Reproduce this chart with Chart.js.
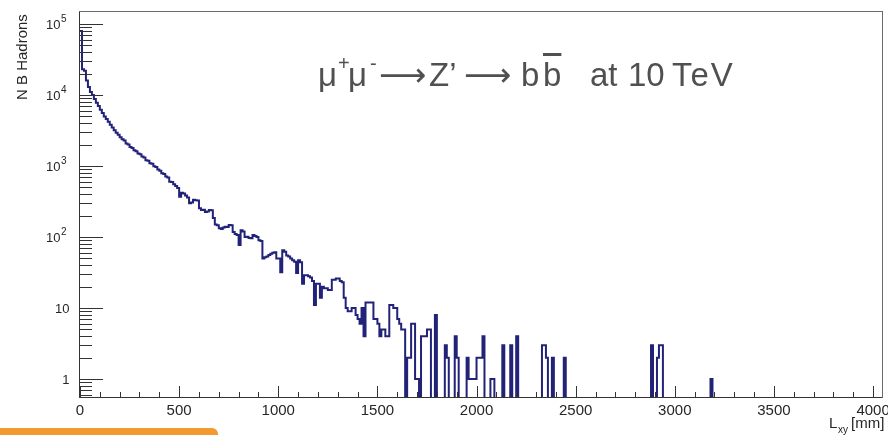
<!DOCTYPE html>
<html>
<head>
<meta charset="utf-8">
<script src="https://cdn.jsdelivr.net/npm/chart.js@4.4.1/dist/chart.umd.min.js"></script>
<style>
  html, body { margin: 0; padding: 0; background: #fff; }
  #wrap { position: relative; width: 888px; height: 435px; overflow: hidden; background: #fff; }
  #chart { position: absolute; left: 0; top: 0; }
  #process {
    position: absolute; left: 0; top: 58px; width: 888px; height: 40px;
    font-family: "Liberation Sans", "DejaVu Sans", sans-serif;
    font-size: 33px; line-height: 33px; color: #505050; white-space: nowrap;
  }
  #process span { position: absolute; top: 0; }
  #process .up { top: -11px; font-size: 20px; }
  #process .bar { text-decoration: overline; }
  #slideBar {
    position: absolute; left: 0; top: 428px; width: 218px; height: 12px;
    background: #f29a2e; border-top-right-radius: 6px;
  }
</style>
</head>
<body>
<div id="wrap">
  <canvas id="chart" width="888" height="435"></canvas>
  <div id="process"><span style="left:318px">μ</span><span class="up" style="left:338px">+</span><span style="left:348px">μ</span><span class="up" style="left:370px">-</span><span style="left:379px">⟶</span><span style="left:429px">Z’</span><span style="left:464px">⟶</span><span style="left:521px">b</span><span class="bar" style="left:543px">b</span><span style="left:590px">at</span><span style="left:628px">10</span><span style="left:672px; letter-spacing:2px">TeV</span></div>
  <div id="slideBar"></div>
</div>
<script>
// histogram binning (mm)
var xMin = 0;
var binWidth = 10;

// B hadron counts per 10 mm bin (20 bins per row = 200 mm)
var counts = [
  80000, 23000, 22000, 16000, 13000, 11000, 10000, 8800, 7800, 7000, 6200, 5600, 5000, 4600, 4200, 3800, 3500, 3200, 2950, 2750,
  2550, 2380, 2290, 2080, 2010, 1850, 1800, 1670, 1620, 1500, 1470, 1360, 1320, 1210, 1190, 1090, 1080, 990, 970, 890,
  860, 790, 770, 710, 690, 600, 595, 555, 525, 490, 370, 420, 410, 385, 360, 300, 305, 335, 330, 328,
  255, 240, 242, 225, 228, 240, 238, 185, 150, 146, 133, 130, 136, 139, 138, 148, 147, 118, 110, 107,
  77, 125, 120, 100, 101, 97, 96, 107, 103, 100, 90, 88, 50, 52, 53, 56, 58, 60, 61, 50,
  50, 32, 65, 62, 55, 53, 50, 47, 45, 31, 47, 44, 22, 29, 29, 28, 27, 24, 11, 22,
  22, 14, 20, 19, 19, 18, 18, 25, 25, 26, 26, 24, 23, 14, 10, 9, 9, 10, 10, 8,
  7, 6, 10, 4, 12, 12, 12, 12, 7, 7, 6, 4, 5, 5, 4, 4, 11, 11, 10, 10,
  7, 6, 5, 5, 0, 2, 2, 6, 6, 1, 1, 0, 4, 4, 4, 5, 5, 0, 0, 8,
  0, 0, 0, 0, 3, 2, 0, 0, 0, 4, 2, 0, 0, 0, 0, 2, 1, 1, 1, 1,
  2, 2, 2, 4, 0, 0, 0, 1, 1, 0, 0, 0, 0, 3, 0, 0, 0, 3, 0, 0,
  4, 0, 0, 0, 0, 0, 0, 0, 0, 0, 0, 0, 0, 3, 3, 2, 0, 0, 2, 0,
  0, 0, 0, 0, 2, 0, 0, 0, 0, 0, 0, 0, 0, 0, 0, 0, 0, 0, 0, 0,
  0, 0, 0, 0, 0, 0, 0, 0, 0, 0, 0, 0, 0, 0, 0, 0, 0, 0, 0, 0,
  0, 0, 0, 0, 0, 0, 0, 0, 3, 0, 0, 2, 3, 3, 0, 0, 0, 0, 0, 0,
  0, 0, 0, 0, 0, 0, 0, 0, 0, 0, 0, 0, 0, 0, 0, 0, 0, 0, 1, 0,
  0, 0, 0, 0, 0, 0, 0, 0, 0, 0, 0, 0, 0, 0, 0, 0, 0, 0, 0, 0,
  0, 0, 0, 0, 0, 0, 0, 0, 0, 0, 0, 0, 0, 0, 0, 0, 0, 0, 0, 0,
  0, 0, 0, 0, 0, 0, 0, 0, 0, 0, 0, 0, 0, 0, 0, 0, 0, 0, 0, 0,
  0, 0, 0, 0, 0, 0, 0, 0, 0, 0, 0, 0, 0, 0, 0, 0, 0, 0, 0, 0
];

// axis ticks and labels
var xMajorTicks = [0, 500, 1000, 1500, 2000, 2500, 3000, 3500, 4000];
var xTickLabels = ['0', '500', '1000', '1500', '2000', '2500', '3000', '3500', '4000'];
var yMajorTicks = [1, 10, 100, 1000, 10000, 100000];
var yTickBase = ['1', '10', '10', '10', '10', '10'];
var yTickExp = ['', '', '2', '3', '4', '5'];

var yAxisTitle = 'N B Hadrons';

// empty bins drop below the frame like ROOT does on a log axis
var emptyBin = 0.1;
var points = counts.map(function (c, i) {
  return { x: xMin + i * binWidth, y: c > 0 ? c : emptyBin };
});
points.push({ x: xMin + counts.length * binWidth, y: points[points.length - 1].y });

var font = '"Liberation Sans", "DejaVu Sans", sans-serif';

// ROOT style frame, inner ticks and labels
var rootAxes = {
  id: 'rootAxes',
  afterDatasetsDraw: function (chart) {
    var ctx = chart.ctx;
    var a = chart.chartArea;
    var xs = chart.scales.x;
    var ys = chart.scales.y;
    ctx.save();

    // frame
    ctx.strokeStyle = '#6a6a6a';
    ctx.lineWidth = 1;
    ctx.strokeRect(a.left - 0.5, a.top - 0.5, a.right - a.left + 1, a.bottom - a.top + 1);

    ctx.strokeStyle = '#333';
    ctx.beginPath();
    ctx.moveTo(a.left - 0.5, a.top);
    ctx.lineTo(a.left - 0.5, a.bottom + 0.5);
    ctx.lineTo(a.right, a.bottom + 0.5);
    ctx.stroke();

    // x ticks
    ctx.beginPath();
    for (var v = 0; v <= xs.max; v += 100) {
      var px = Math.round(xs.getPixelForValue(v)) + 0.5;
      var len = v % 500 === 0 ? 11 : 5;
      ctx.moveTo(px, a.bottom);
      ctx.lineTo(px, a.bottom - len);
    }
    // y ticks
    for (var k = -1; k <= 5; k++) {
      for (var d = 1; d <= 9; d++) {
        var val = d * Math.pow(10, k);
        if (val < ys.min || val > ys.max) continue;
        var py = Math.round(ys.getPixelForValue(val)) + 0.5;
        var l = d === 1 ? 23 : 12;
        ctx.moveTo(a.left, py);
        ctx.lineTo(a.left + l, py);
      }
    }
    ctx.stroke();

    // x labels
    ctx.fillStyle = '#262626';
    ctx.font = '15px ' + font;
    ctx.textAlign = 'center';
    ctx.textBaseline = 'alphabetic';
    xMajorTicks.forEach(function (t, i) {
      ctx.fillText(xTickLabels[i], xs.getPixelForValue(t), 415);
    });

    // y labels
    yMajorTicks.forEach(function (t, i) {
      var py = ys.getPixelForValue(t);
      if (yTickExp[i] === '') {
        ctx.font = '13px ' + font;
        ctx.textAlign = 'right';
        ctx.fillText(yTickBase[i], 69.5, py + 5);
      } else {
        ctx.font = '10px ' + font;
        var ew = ctx.measureText(yTickExp[i]).width;
        ctx.textAlign = 'left';
        ctx.fillText(yTickExp[i], 66.5 - ew, py - 2);
        ctx.font = '13px ' + font;
        ctx.textAlign = 'right';
        ctx.fillText(yTickBase[i], 66 - ew, py + 5);
      }
    });

    // y title
    ctx.save();
    ctx.translate(27, 100);
    ctx.rotate(-Math.PI / 2);
    ctx.font = '15px ' + font;
    ctx.textAlign = 'left';
    ctx.fillText(yAxisTitle, 0, 0);
    ctx.restore();

    // x title: L_xy [mm]
    ctx.textAlign = 'left';
    ctx.font = '15px ' + font;
    ctx.fillText('L', 829, 428);
    ctx.font = '10px ' + font;
    ctx.fillText('xy', 838, 433);
    ctx.font = '15px ' + font;
    ctx.fillText('[mm]', 851, 428);

    ctx.restore();
  }
};

new Chart(document.getElementById('chart'), {
  type: 'line',
  data: {
    datasets: [{
      label: 'N B Hadrons',
      data: points,
      stepped: 'before',
      borderColor: '#222278',
      borderWidth: 2,
      pointRadius: 0,
      fill: false
    }]
  },
  options: {
    responsive: false,
    animation: false,
    layout: { padding: { left: 80, right: 6, top: 12, bottom: 38 } },
    plugins: { legend: { display: false }, tooltip: { enabled: false } },
    scales: {
      x: { type: 'linear', min: 0, max: 4045, display: false },
      y: { type: 'logarithmic', min: 0.558, max: 147600, display: false }
    }
  },
  plugins: [rootAxes]
});
</script>
</body>
</html>
